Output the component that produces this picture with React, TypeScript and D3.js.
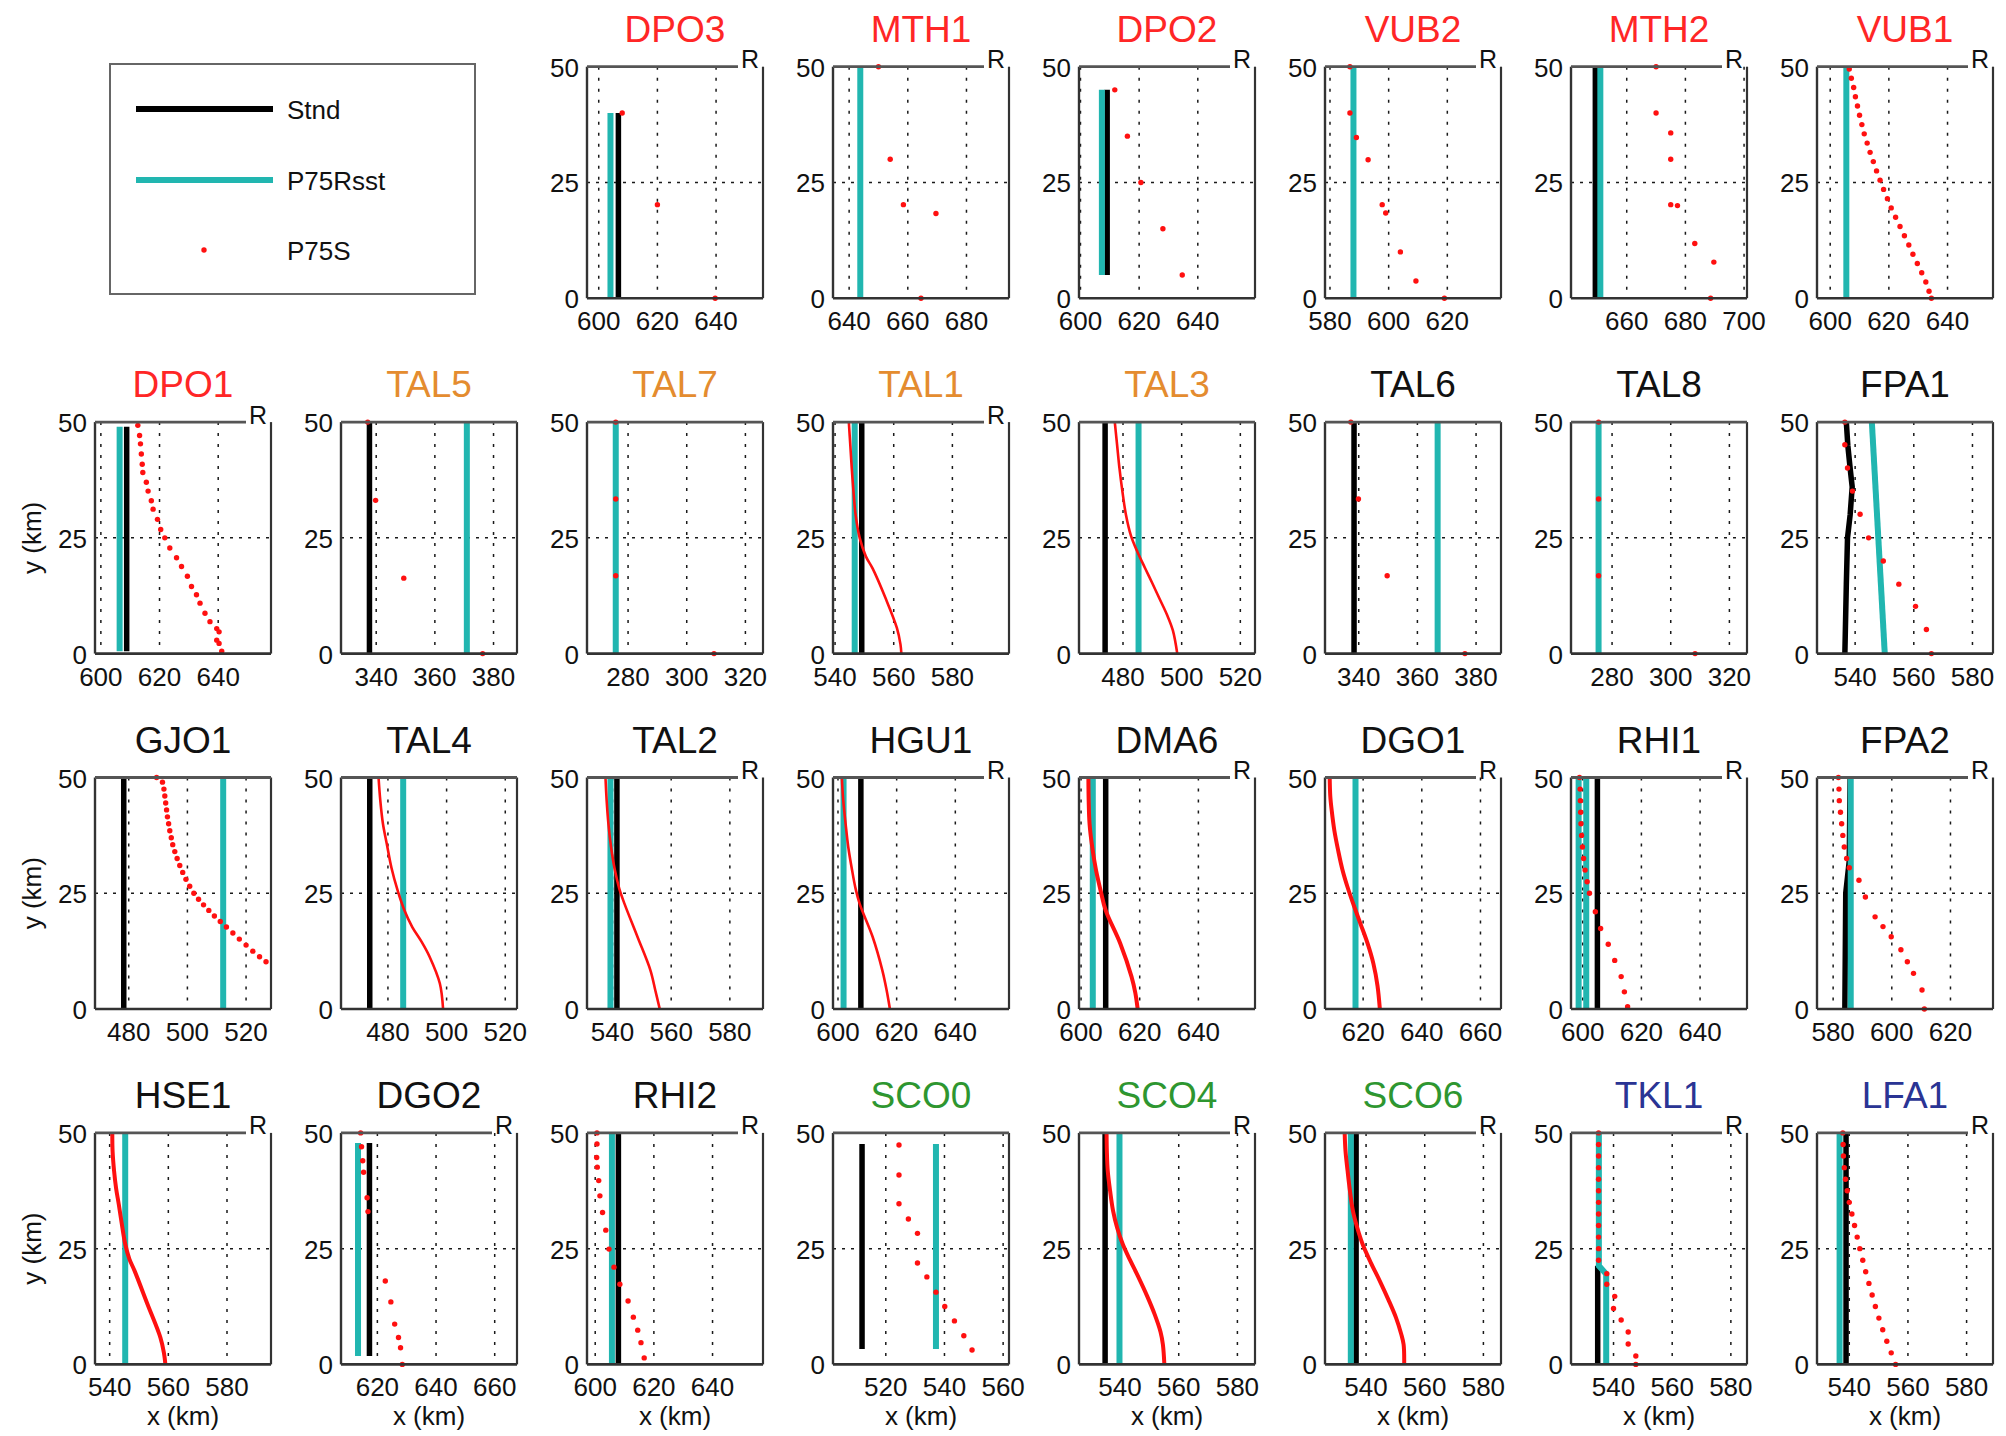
import React from "react";
import * as d3 from "d3";

type Pt = [number, number];

// ---------- DATA ----------
const panelNames = ["DPO3","MTH1","DPO2","VUB2","MTH2","VUB1","DPO1","TAL5","TAL7","TAL1","TAL3","TAL6","TAL8","FPA1","GJO1","TAL4","TAL2","HGU1","DMA6","DGO1","RHI1","FPA2","HSE1","DGO2","RHI2","SCO0","SCO4","SCO6","TKL1","LFA1"];
const panelGroups = ["r","r","r","r","r","r","r","o","o","o","o","k","k","k","k","k","k","k","k","k","k","k","k","k","k","g","g","g","b","b"];
const xMin = [596,634.5,599.5,578.3,641,595.5,598,328,266,539.3,465,328.5,266,527,468.5,464,531.3,598.3,599.3,607,596,574.5,535,607.6,597.2,502,526,526,525.5,529];
const xSpan = 60;
const yTicks = [0, 25, 50];
const rMarked = [true,true,true,true,true,true,true,false,false,true,false,false,false,false,false,false,true,true,true,true,true,true,true,true,true,false,true,true,true,true];

const legendLabels = ["Stnd", "P75Rsst", "P75S"];

// Stnd (black) polylines per panel
const stndLines: Pt[][][] = [
  [[[606.7,0],[606.7,40]]],
  [],
  [[[609.1,5],[609.1,45]]],
  [],
  [[[649.3,0],[649.3,50]]],
  [],
  [[[608.8,0.5],[608.8,49]]],
  [[[337.7,0],[337.7,50]]],
  [],
  [[[549.1,0],[549.1,50]]],
  [[[473.9,0],[473.9,50]]],
  [[[338.4,0],[338.4,50]]],
  [],
  [[[536.5,0],[537,15],[537.4,25],[538.3,30],[539,36],[538.3,40],[537.5,45],[537,50]]],
  [[[478.3,0],[478.3,50]]],
  [[[473.8,0],[473.8,50]]],
  [[[541.5,0],[541.5,50]]],
  [[[607.8,0],[607.8,50]]],
  [[[608.4,0],[608.4,50]]],
  [],
  [[[605,0],[605,50]]],
  [[[584,0],[584.3,25],[585.5,32],[585.8,50]]],
  [],
  [[[617.3,1.8],[617.3,47.8]]],
  [[[607.9,0],[607.9,50]]],
  [[[511.9,3.3],[511.9,47.6]]],
  [[[534.9,0],[534.9,50]]],
  [[[536.6,0],[536.6,50]]],
  [[[534.6,0],[534.6,21.3]]],
  [[[538.9,0],[538.9,50]]],
];

// P75Rsst (cyan) polylines per panel
const rsstLines: Pt[][][] = [
  [[[604,0],[604,40]]],
  [[[643.8,0],[643.8,50]]],
  [[[607.3,5],[607.3,45]]],
  [[[588,0],[588,50]]],
  [[[651,0],[651,50]]],
  [[[605.5,0],[605.5,50]]],
  [[[606.4,0.5],[606.4,49]]],
  [[[370.9,0],[370.9,50]]],
  [[[275.8,0],[275.8,50]]],
  [[[546.7,0],[546.7,50]]],
  [[[485.3,0],[485.3,50]]],
  [[[366.9,0],[366.9,50]]],
  [[[275.4,0],[275.4,50]]],
  [[[550.1,0],[545.7,50]]],
  [[[512.2,0],[512.2,50]]],
  [[[485.2,0],[485.2,50]]],
  [[[539.3,0],[539.3,50]]],
  [[[601.9,0],[601.9,50]]],
  [[[604,0],[604,50]]],
  [[[617.4,0],[617.4,50]]],
  [[[598.6,0],[598.6,50]],[[601.2,0],[601.2,50]]],
  [[[586,0],[586,50]]],
  [[[545.3,0],[545.3,50]]],
  [[[613.4,1.8],[613.4,47.8]]],
  [[[605.7,0],[605.7,50]]],
  [[[537.1,3.3],[537.1,47.6]]],
  [[[539.8,0],[539.8,50]]],
  [[[534.8,0],[534.8,50]]],
  [[[537.5,0],[537.5,19.5],[535,21.3],[535,50]]],
  [[[536.7,0],[536.7,50]]],
];

// P75S (red) points per panel
const p75sPoints: Pt[][] = [
  [[608,40],[620,20.2],[639.7,0]],
  [[650,50],[654,30],[658.5,20.2],[669.6,18.3],[664.5,0]],
  [[611.7,45],[616,35],[620.6,25],[628.1,15],[634.7,5]],
  [[586.8,50],[586.8,40],[589,34.7],[593,29.9],[597.8,20.2],[599,18.4],[604,10],[609.3,3.7],[619,0]],
  [[670,50],[670,40],[675,35.7],[675,30],[675,20.2],[677.3,20],[683.2,11.8],[689.7,7.8],[688.6,0]],
  [[606.5,49.5],[607.2,47.5],[608,45.5],[608.6,43.5],[609.3,41.5],[610,39.5],[610.8,37.5],[611.6,35.5],[612.6,33.5],[613.6,31.5],[614.7,29.5],[615.8,27.5],[617,25.5],[618.2,23.5],[619.5,21.5],[620.8,19.5],[622.3,17.5],[623.8,15.5],[625.3,13.5],[626.8,11.5],[628.2,9.5],[629.7,7.5],[631.2,5.5],[632.6,3.5],[633.7,1.5],[634.5,0]],
  [[612.6,49.3],[613.2,47.1],[613.5,45.3],[613.8,43.1],[614.1,40.9],[614.3,39.1],[615.5,37],[616.1,35.1],[617.2,33],[617.8,31.2],[619.3,29],[620.4,26.8],[621.8,25],[623.5,22.8],[625.8,20.7],[627.5,18.8],[629.5,16.7],[630.9,14.5],[632.6,12.7],[633.8,10.9],[635.5,8.7],[637.2,6.9],[639.5,5.4],[640.3,4.7],[639.5,2.9],[640.3,2.2],[641.2,0.5]],
  [[337.1,50],[339.8,33.1],[349.4,16.3],[376.3,0]],
  [[275.8,50],[275.8,33.4],[275.8,16.8],[309.3,0]],
  [[544.7,50],[545.2,45],[545.7,40],[546.2,35.7],[547,30],[548.4,25],[550.5,21],[552.8,18.4],[557.2,12],[561.1,5.5],[562.3,2],[562.6,0]],
  [[477.2,50],[478,45],[478.8,40],[479.8,35],[481,30],[482.7,25.5],[484.9,22],[487.5,18.5],[490,15.2],[492.5,11.8],[495,8.4],[497,5],[498.5,0]],
  [[337.3,50],[339.9,33.4],[349.7,16.8],[376.2,0]],
  [[275.4,50],[275.4,33.4],[275.4,16.8],[308.3,0]],
  [[536.5,50],[536.5,45.1],[537.4,40.1],[539.1,35.1],[541.7,30.1],[544.6,25],[549.6,20],[554.9,15],[560.6,10.2],[564.3,5.2],[566,0]],
  [[489.5,50],[491.5,49],[492,47.5],[492.3,46],[492.6,44.5],[492.9,43],[493.2,41.5],[493.6,40],[494,38.5],[494.5,37],[495,35.5],[495.7,34],[496.5,32.5],[497.4,31],[498.4,29.5],[499.5,28],[500.8,26.5],[502.2,25],[503.8,23.7],[505.5,22.5],[507.3,21.3],[509.2,20.1],[511.2,18.9],[513.3,17.7],[515.5,16.4],[517.7,15.1],[520,13.8],[522.3,12.5],[524.6,11.3],[526.8,10.2]],
  [[476.8,50],[477.4,45],[478.3,40],[479.6,35.7],[481.2,30.5],[483.3,25.6],[485.5,21.5],[488.3,17.7],[491.5,14.5],[494.2,11.3],[497.7,5.5],[498.8,0]],
  [[537.6,50],[538,45],[538.6,40],[539.5,35],[540.8,30],[542.3,26],[544.1,22.7],[548.5,15.6],[552.9,8.4],[554.6,4],[556.1,0]],
  [[601.3,50],[601.8,45],[602.6,40],[603.5,35],[604.8,30],[606,26],[607.4,22.7],[611.8,15.6],[615.1,8.4],[616.6,4],[617.7,0]],
  [[602.5,50],[602.6,45],[602.9,40],[603.8,35],[605.1,30],[606.7,25.5],[608.4,21.3],[613.4,14.1],[617.2,7],[618.5,3.5],[619.3,0]],
  [[608.6,50],[608.8,46],[609.3,42.8],[610.2,38.5],[611.5,34.2],[612.9,30.2],[614.7,26.3],[616.8,22.4],[619.1,18.4],[621.6,14],[623.5,9.8],[624.9,5],[625.7,0]],
  [[598.9,50],[599.1,47.5],[599.2,45],[599.3,42.5],[599.4,40],[599.6,37.5],[599.9,35],[600.3,32.5],[600.8,30],[601.5,27.5],[602.3,25],[604.3,21],[606.1,17.4],[608.7,14],[610.9,10.5],[613.1,7],[614.2,3.7],[615.3,0.5]],
  [[581.8,50],[582,47.5],[582.1,45],[582.5,42.5],[582.9,40],[583.3,37.5],[583.8,35],[584.6,32.5],[585.5,30.5],[588.8,27.8],[591,24.2],[594.3,19.9],[597,17.8],[599.8,15.6],[603.1,12.8],[605.3,10.2],[607.4,7.7],[610.3,4.1],[611.1,0]],
  [[540.9,50],[541,46],[541.5,41.8],[542.2,38],[543.1,34.6],[544.1,30.5],[545.3,26],[546.7,22.8],[548.5,20.2],[552.9,13],[557.3,5.8],[558.5,2.5],[559,0]],
  [[614.3,50],[614.6,47],[615,44],[615.3,41.5],[616.5,36],[616.8,33],[622.7,18],[624.6,13.5],[625.9,8.7],[627.2,5.8],[627.9,3.6],[628.5,0]],
  [[600.6,50],[600.6,47.6],[600.5,44.7],[600.7,42.6],[601.2,39.7],[601.6,36.4],[602.5,32.8],[603.6,29],[604.7,24.9],[606.4,21],[608.4,17.3],[611.2,13.7],[613,10.2],[614.5,7.4],[615.6,4.7],[616.7,1.4]],
  [[524.5,47.4],[524.5,40.9],[524.5,34.7],[527.7,31.4],[530.8,28.3],[530.8,21.9],[534,18.9],[537.1,15.6],[540.1,12.5],[543.4,9.4],[546.6,6.2],[549.4,3.1]],
  [[535.4,50],[535.5,46],[535.8,41.8],[536.6,37.5],[537.6,33.2],[539,29.5],[540.9,26],[543.5,22.4],[546.3,18.8],[549.2,14.8],[551.8,10.8],[553.8,7],[554.6,4.3],[555.1,0]],
  [[532.7,50],[533,46],[533.7,41.8],[534.5,37.5],[535.5,33.2],[537,29.5],[538.8,26],[541.6,22],[544.7,18],[547.6,14],[550.2,10.1],[552,6.5],[552.8,4.3],[553,0]],
  [[534.9,50],[534.9,47.5],[534.9,45],[534.9,42.5],[534.9,40],[534.9,37.5],[534.9,35],[534.9,32.5],[534.9,30],[534.9,27.5],[534.9,25],[534.9,22.5],[537.7,19.6],[537.7,17.3],[540.4,14.7],[540,12.1],[542.6,9.6],[545,7],[545,4.4],[547.6,1.8],[547.6,0]],
  [[537.8,50],[537.9,47.5],[538,45],[538.3,42.5],[538.7,40],[539.3,37.5],[540,35],[540.9,32.5],[541.8,30],[542.7,27.5],[543.6,25],[544.6,22.5],[545.6,20],[546.7,17.5],[547.8,15],[548.9,12.5],[550.1,10],[551.4,7.5],[552.8,5],[554.3,2.5],[555.8,0]],
];

// panels whose P75S points are so dense they appear as a continuous trace
const denseTrace = [false,false,false,false,false,false,false,false,false,true,true,false,false,false,false,true,true,true,true,true,false,false,true,false,false,false,true,true,false,false];

// ---------- STYLE / LAYOUT ----------
const W = 2006, H = 1436;
const colX0 = 95, colPitch = 246, PW = 176;
const rowY0 = 66.7, rowPitch = 355.4, PH = 231.5;
const FONT = "'Liberation Sans', Arial, Helvetica, sans-serif";
const CYAN = "#21b6b0";
const RED = "#ff1010";
const groupColor: Record<string, string> = { r: "#ff2626", o: "#e48c2f", k: "#111111", g: "#2e9630", b: "#2a3494" };
const heavyTrace = new Set(["DMA6", "DGO1", "HSE1", "SCO4", "SCO6"]);

function slot(i: number) {
  if (i < 6) return { row: 0, col: i + 2 };
  const j = i - 6;
  return { row: 1 + Math.floor(j / 8), col: j % 8 };
}

function Panel({ i }: { i: number }) {
  const { row, col } = slot(i);
  const left = colX0 + col * colPitch;
  const top = rowY0 + row * rowPitch;
  const right = left + PW;
  const bottom = top + PH;
  const x = d3.scaleLinear().domain([xMin[i], xMin[i] + xSpan]).range([left, right]);
  const y = d3.scaleLinear().domain([0, 50]).range([bottom, top]);
  const xt = x.ticks(3).filter((t) => t % 20 === 0);
  const line = d3.line<Pt>().x((d) => x(d[0])).y((d) => y(d[1]));
  const trace = d3.line<Pt>().x((d) => x(d[0])).y((d) => y(d[1])).curve(d3.curveCatmullRom.alpha(0.5));
  const name = panelNames[i];
  return (
    <g>
      {xt.map((t) => (
        <line key={"gx" + t} x1={x(t)} x2={x(t)} y1={top} y2={bottom} stroke="#1a1a1a" strokeWidth={1.5} strokeDasharray="3 8" />
      ))}
      <line x1={left} x2={right} y1={y(25)} y2={y(25)} stroke="#1a1a1a" strokeWidth={1.5} strokeDasharray="3 6" />
      {stndLines[i].map((pl, k) => (
        <path key={"s" + k} d={line(pl) || ""} fill="none" stroke="#000" strokeWidth={5.5} />
      ))}
      {rsstLines[i].map((pl, k) => (
        <path key={"c" + k} d={line(pl) || ""} fill="none" stroke={CYAN} strokeWidth={6} />
      ))}
      {denseTrace[i] ? (
        <path d={trace(p75sPoints[i]) || ""} fill="none" stroke={RED} strokeWidth={heavyTrace.has(name) ? 4 : 2.6} />
      ) : (
        p75sPoints[i].map((d, k) => <circle key={"p" + k} cx={x(d[0])} cy={y(d[1])} r={2.7} fill={RED} />)
      )}
      {/* frame */}
      <line x1={left} x2={left} y1={top} y2={bottom} stroke="#333" strokeWidth={2.4} />
      <line x1={left} x2={right} y1={bottom} y2={bottom} stroke="#333" strokeWidth={2.6} />
      <line x1={right} x2={right} y1={top} y2={bottom} stroke="#333" strokeWidth={2.2} />
      <line x1={left} x2={rMarked[i] ? right - 25 : right} y1={top} y2={top} stroke="#555" strokeWidth={2.8} />
      {rMarked[i] && (
        <text x={right - 4} y={top + 1.5} textAnchor="end" fontFamily={FONT} fontSize={25} fill="#111">R</text>
      )}
      {/* title */}
      <text x={(left + right) / 2} y={top - 25} textAnchor="middle" fontFamily={FONT} fontSize={37} fill={groupColor[panelGroups[i]]}>{name}</text>
      {/* tick labels */}
      {yTicks.map((t) => (
        <text key={"yl" + t} x={left - 8} y={y(t) + 1} textAnchor="end" dominantBaseline="central" fontFamily={FONT} fontSize={26} fill="#111">{t}</text>
      ))}
      {xt.map((t) => (
        <text key={"xl" + t} x={x(t)} y={bottom + 32} textAnchor="middle" fontFamily={FONT} fontSize={26} fill="#111">{t}</text>
      ))}
      {row === 3 && (
        <text x={(left + right) / 2} y={1425} textAnchor="middle" fontFamily={FONT} fontSize={26} fill="#111">x (km)</text>
      )}
      {col === 0 && (
        <text transform={`translate(41,${(top + bottom) / 2}) rotate(-90)`} textAnchor="middle" fontFamily={FONT} fontSize={26} fill="#111">y (km)</text>
      )}
    </g>
  );
}

function Legend() {
  const rows = [109, 180, 250];
  return (
    <g>
      <rect x={110} y={64} width={365} height={230} fill="#fff" stroke="#666" strokeWidth={2} />
      <line x1={136} x2={273} y1={rows[0]} y2={rows[0]} stroke="#000" strokeWidth={6} />
      <line x1={136} x2={273} y1={rows[1]} y2={rows[1]} stroke={CYAN} strokeWidth={6} />
      <circle cx={204} cy={rows[2]} r={2.7} fill={RED} />
      {legendLabels.map((l, k) => (
        <text key={l} x={287} y={rows[k] + 1} dominantBaseline="central" fontFamily={FONT} fontSize={26} fill="#111">{l}</text>
      ))}
    </g>
  );
}

export default function App() {
  return (
    <svg width={W} height={H} viewBox={`0 0 ${W} ${H}`} style={{ position: "absolute", left: 0, top: 0, background: "#fff" }}>
      <rect x={0} y={0} width={W} height={H} fill="#fff" />
      <Legend />
      {panelNames.map((_, i) => (
        <Panel key={i} i={i} />
      ))}
    </svg>
  );
}
